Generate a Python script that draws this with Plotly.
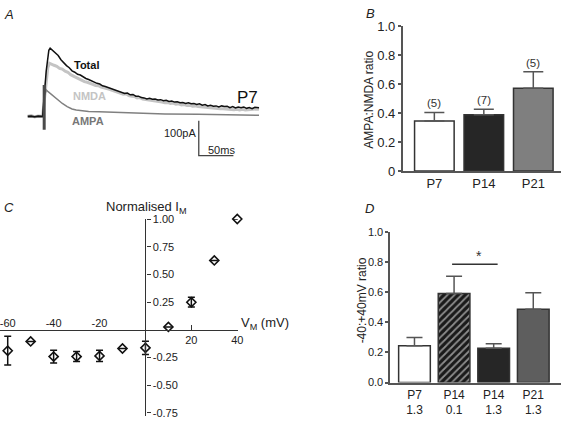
import plotly.graph_objects as go

W, H = 567, 424
FONT = "Liberation Sans, Arial, Helvetica, sans-serif"

# ---------------- Panel A : example currents (ms, pA) ----------------
total_t = [0, 5, 10, 15, 20, 21.5, 26.7, 30.5, 32.4, 36, 40, 44, 48, 52, 56, 60, 64, 68, 72, 76,
           80, 84, 88, 92, 96, 100, 104, 108, 112, 116, 120, 124, 128, 132, 136, 140, 144, 148,
           152, 156, 160, 164, 168, 172, 176, 180, 184, 188, 192, 196, 200, 204, 208, 212, 216,
           220, 224, 228, 232, 236, 240, 244, 248, 252, 256, 260, 264, 268, 272, 276, 280, 284,
           288, 292, 296, 300, 304, 308, 312, 316, 320, 324, 328, 334]
total_i = [0, 1, -1, 1, 0, 0, 130, 190, 196, 190, 181, 175, 163, 154, 146, 140, 131, 127, 121, 119,
           113, 109, 106, 102, 100, 95, 93, 88, 86, 83, 80, 77, 75, 71, 70, 66, 67, 62,
           63, 58, 58, 54, 53, 50, 52, 49, 50, 47, 48, 45, 46, 43, 44, 41, 42,
           39, 40, 37, 39, 36, 37, 34, 36, 32, 34, 30, 32, 29, 30, 27, 30, 28,
           29, 25, 28, 24, 27, 25, 27, 23, 25, 22, 26, 25]

nmda_t = [0, 5, 10, 15, 21.5, 26.7, 29, 31.4, 34, 38, 42, 46, 50, 54, 58, 62, 66, 70, 74, 78, 82,
          86, 90, 94, 98, 102, 106, 110, 114, 118, 122, 126, 130, 134, 138, 142, 146, 150, 154,
          158, 162, 166, 170, 174, 178, 182, 186, 190, 194, 198, 202, 206, 210, 214, 218, 222,
          226, 230, 234, 238, 242, 246, 250, 254, 258, 262, 266, 270, 274, 278, 282, 286, 290,
          294, 298, 302, 306, 310, 314, 318, 322, 326, 330, 334]
nmda_i = [0, 2, -2, 1, 0, 105, 140, 153, 150, 147, 144, 138, 136, 130, 127, 120, 116, 112, 106, 104, 100,
          98, 94, 92, 89, 88, 84, 83, 80, 78, 75, 73, 70, 68, 64, 65, 60, 58, 57,
          53, 54, 50, 49, 47, 47, 44, 45, 42, 41, 39, 40, 37, 38, 35, 36, 33,
          34, 31, 32, 29, 30, 28, 27, 26, 26, 24, 25, 23, 23, 22, 22, 21, 20,
          21, 19, 20, 18, 20, 18, 19, 20, 19, 21, 20]

ampa_t = [0, 21.5, 24.5, 26.7, 29, 36, 43, 50, 57, 64, 70, 74, 88, 103, 127, 150, 198, 246, 293, 334]
ampa_i = [-3, -3, 60, 76, 72, 60, 48, 37, 28, 21, 18, 17, 14, 13, 11, 9, 7, 6, 4, 3]

artifact_t = [23.8, 23.8]
artifact_i = [90, -39]

scale_origin_t, scale_origin_i = 247, -113
scale_ms, scale_pa = 50, 100

# ---------------- Panel B : AMPA:NMDA ratio ----------------
b_groups = ["P7", "P14", "P21"]
b_ratio = [0.345, 0.389, 0.571]
b_sem = [0.060, 0.038, 0.114]
b_n = ["(5)", "(7)", "(5)"]
b_tickvals = [0, 0.2, 0.4, 0.6, 0.8, 1.0]
b_ticktext = ["0", "0.2", "0.4", "0.6", "0.8", "1.0"]

# ---------------- Panel C : I-V relationship ----------------
c_vm = [-60, -50, -40, -30, -20, -10, 0, 10, 20, 30, 40]
c_im = [-0.19, -0.106, -0.243, -0.243, -0.237, -0.17, -0.164, 0.025, 0.248, 0.626, 1.0]
c_err = [0.13, None, 0.058, 0.045, 0.05, None, 0.06, None, 0.044, None, None]
c_ytickvals = [-0.75, -0.5, -0.25, 0.25, 0.5, 0.75, 1.0]
c_yticktext = ["-0.75", "-0.50", "-0.25", "0.25", "0.50", "0.75", "1.00"]
c_xneg = [-60, -40, -20]
c_xneg_text = ["-60", "-40", "-20"]
c_xpos = [20, 40]
c_xpos_text = ["20", "40"]

# ---------------- Panel D : -40:+40 mV ratio ----------------
d_groups = ["P7", "P14", "P14", "P21"]
d_mg = ["1.3", "0.1", "1.3", "1.3"]
d_ratio = [0.245, 0.592, 0.228, 0.487]
d_sem = [0.055, 0.115, 0.030, 0.109]
d_tickvals = [0, 0.2, 0.4, 0.6, 0.8, 1.0]
d_ticktext = ["0.0", "0.2", "0.4", "0.6", "0.8", "1.0"]
d_sig_pair = (1, 2)
d_sig_y = 0.786


def fx(px):
    return px / W


def fy(py):
    return 1 - py / H


fig = go.Figure()

# Panel A traces
fig.add_trace(go.Scatter(x=nmda_t, y=nmda_i, mode="lines", line=dict(color="#c4c4c4", width=3),
                         xaxis="x", yaxis="y", hoverinfo="skip"))
fig.add_trace(go.Scatter(x=ampa_t, y=ampa_i, mode="lines", line=dict(color="#808080", width=1.5),
                         xaxis="x", yaxis="y", hoverinfo="skip"))
fig.add_trace(go.Scatter(x=total_t, y=total_i, mode="lines", line=dict(color="#111111", width=1.5),
                         xaxis="x", yaxis="y", hoverinfo="skip"))
fig.add_trace(go.Scatter(x=artifact_t, y=artifact_i, mode="lines", line=dict(color="#4a4a4a", width=3),
                         xaxis="x", yaxis="y", hoverinfo="skip"))
fig.add_trace(go.Scatter(x=[scale_origin_t, scale_origin_t, scale_origin_t + scale_ms],
                         y=[scale_origin_i + scale_pa, scale_origin_i, scale_origin_i],
                         mode="lines", line=dict(color="#444444", width=1.3),
                         xaxis="x", yaxis="y", hoverinfo="skip"))

# Panel B bars
fig.add_trace(go.Bar(x=b_groups, y=b_ratio, width=0.8, xaxis="x2", yaxis="y2",
                     marker=dict(color=["white", "#262626", "#7f7f7f"],
                                 line=dict(color="#333333", width=1.5)),
                     error_y=dict(type="data", array=b_sem, arrayminus=[0, 0, 0], symmetric=False,
                                  color="#555555", thickness=1.5, width=10)))

# Panel C points
fig.add_trace(go.Scatter(x=c_vm, y=c_im, mode="markers", xaxis="x3", yaxis="y3", cliponaxis=False,
                         marker=dict(symbol="diamond-open", size=7, color="#111111",
                                     line=dict(width=1.6, color="#111111")),
                         error_y=dict(type="data", array=c_err, color="#111111", thickness=1.5, width=3.5)))
fig.add_trace(go.Scatter(x=[], y=[], xaxis="x4", yaxis="y3", hoverinfo="skip"))

# Panel D bars
d_labels = [f"{g}<br>{m}" for g, m in zip(d_groups, d_mg)]
fig.add_trace(go.Bar(x=d_labels, y=d_ratio, width=0.8, xaxis="x5", yaxis="y5",
                     marker=dict(color=["white", "#1a1a1a", "#262626", "#5e5e5e"],
                                 line=dict(color="#333333", width=1.5),
                                 pattern=dict(shape=["", "/", "", ""], fgcolor="white",
                                              bgcolor="#1a1a1a", size=5, solidity=0.35)),
                     error_y=dict(type="data", array=d_sem, arrayminus=[0, 0, 0, 0], symmetric=False,
                                  color="#555555", thickness=1.5, width=8)))

c_xr = [-63.3, 40.2]
c_yr = [-0.78, 1.0]
ax_common = dict(showgrid=False, zeroline=False)

layout = dict(
    width=W, height=H, autosize=False, showlegend=False,
    margin=dict(l=0, r=0, t=0, b=0),
    paper_bgcolor="white", plot_bgcolor="rgba(0,0,0,0)",
    font=dict(family=FONT, color="#222222"),
    barmode="overlay",
    xaxis=dict(domain=[fx(20), fx(275)], range=[-11.43, 352.86], visible=False, anchor="y"),
    yaxis=dict(domain=[fy(165), fy(25)], range=[-143.52, 245.37], visible=False, anchor="x"),
    xaxis2=dict(domain=[fx(407), 1.0], range=[-0.64, 2.56], anchor="y2", type="category",
                showline=True, linecolor="#555555", linewidth=1.5, ticks="",
                tickfont=dict(size=13, color="#222222"), **ax_common),
    yaxis2=dict(domain=[fy(170), fy(20)], range=[0, 1], anchor="x2", showline=True,
                linecolor="#555555", linewidth=1.5, ticks="outside", ticklen=3, tickwidth=1.5,
                tickcolor="#555555", tickvals=b_tickvals, ticktext=b_ticktext,
                tickfont=dict(size=13, color="#222222"), **ax_common),
    xaxis3=dict(domain=[fx(147 + c_xr[0] * 2.32), fx(147 + c_xr[1] * 2.32)], range=c_xr,
                anchor="free", position=fy(334.5), side="bottom", showline=True,
                linecolor="#333333", linewidth=1.3, ticks="inside", ticklen=5, tickwidth=1.3,
                tickcolor="#333333", tickvals=c_xpos, ticktext=c_xpos_text,
                tickfont=dict(size=11, color="#222222"), **ax_common),
    xaxis4=dict(overlaying="x3", range=c_xr, anchor="free", position=fy(334.5), side="top",
                showline=False, ticks="", tickvals=c_xneg, ticktext=c_xneg_text,
                ticklabeloverflow="allow",
                tickfont=dict(size=11, color="#222222"), **ax_common),
    yaxis3=dict(domain=[0, fy(334.5 - c_yr[1] * 114.7)], range=c_yr, anchor="free",
                position=fx(147), side="right", showline=True, linecolor="#333333", linewidth=1.3,
                ticks="outside", ticklen=4, tickwidth=1.3, tickcolor="#333333",
                tickvals=c_ytickvals, ticktext=c_yticktext, ticklabeloverflow="allow",
                tickfont=dict(size=11, color="#222222"), **ax_common),
    xaxis5=dict(domain=[fx(394.3), 1.0], range=[-0.615, 3.70], anchor="y5", type="category",
                showline=True, linecolor="#555555", linewidth=1.5, ticks="",
                tickfont=dict(size=12, color="#222222"), **ax_common),
    yaxis5=dict(domain=[fy(389.3), fy(233.3)], range=[0, 1], anchor="x5", showline=True,
                linecolor="#555555", linewidth=1.5, ticks="outside", ticklen=3, tickwidth=1.5,
                tickcolor="#555555", tickvals=d_tickvals, ticktext=d_ticktext,
                tickfont=dict(size=11, color="#222222"), **ax_common),
)

ann = []


def txt(text, x, y, size=12, xanchor="center", yanchor="middle", color="#222222", angle=0, **kw):
    ann.append(dict(text=text, x=x, y=y, xref="paper", yref="paper", showarrow=False,
                    xanchor=xanchor, yanchor=yanchor, textangle=angle,
                    font=dict(size=size, color=color, family=FONT), **kw))


# panel letters
txt("<i>A</i>", fx(2), fy(8), 13, "left")
txt("<i>B</i>", fx(368), fy(7), 13, "left")
txt("<i>C</i>", fx(2), fy(208), 13, "left")
txt("<i>D</i>", fx(367), fy(209), 13, "left")

# panel A labels
txt("<b>Total</b>", fx(73), fy(60), 11, "left", color="#111111")
txt("<b>NMDA</b>", fx(72), fy(92), 11, "left", color="#c4c4c4")
txt("<b>AMPA</b>", fx(71), fy(118.5), 11, "left", color="#777777")
txt("P7", fx(238), fy(94), 17, "left", color="#111111")
txt("100pA", fx(200), fy(131), 11, "right", color="#222222")
txt("50ms", fx(208), fy(148.5), 11, "left", color="#222222")

# panel B
txt("AMPA:NMDA ratio", fx(373), fy(96), 12, angle=-90)
for g, r, s, n in zip(b_groups, b_ratio, b_sem, b_n):
    ann.append(dict(text=n, x=g, y=r + s, xref="x2", yref="y2", showarrow=False,
                    yanchor="bottom", yshift=1, font=dict(size=11.5, color="#333333", family=FONT)))

# panel C
txt("Normalised I<sub>M</sub>", fx(148), fy(207.5), 13)
txt("V<sub>M</sub> (mV)", fx(242), fy(328), 13, "left")

# panel D
txt("-40:+40mV ratio", fx(366), fy(304), 12, angle=-90)
sx0, sx1 = d_sig_pair[0] - 0.05, d_sig_pair[1] + 0.1
ann.append(dict(text="*", x=(sx0 + sx1) / 2 + 0.1, y=d_sig_y, xref="x5", yref="y5", showarrow=False,
                yanchor="bottom", yshift=-2, font=dict(size=14, color="#333333", family=FONT)))

layout["annotations"] = ann
layout["shapes"] = [dict(type="line", xref="x5", yref="y5", x0=sx0, x1=sx1, y0=d_sig_y, y1=d_sig_y,
                         line=dict(color="#333333", width=1.5))]

fig.update_layout(**layout)
fig.write_html("out.html", config={"displayModeBar": False},
               post_script="document.body.style.margin='0px';document.body.style.overflow='hidden';")
